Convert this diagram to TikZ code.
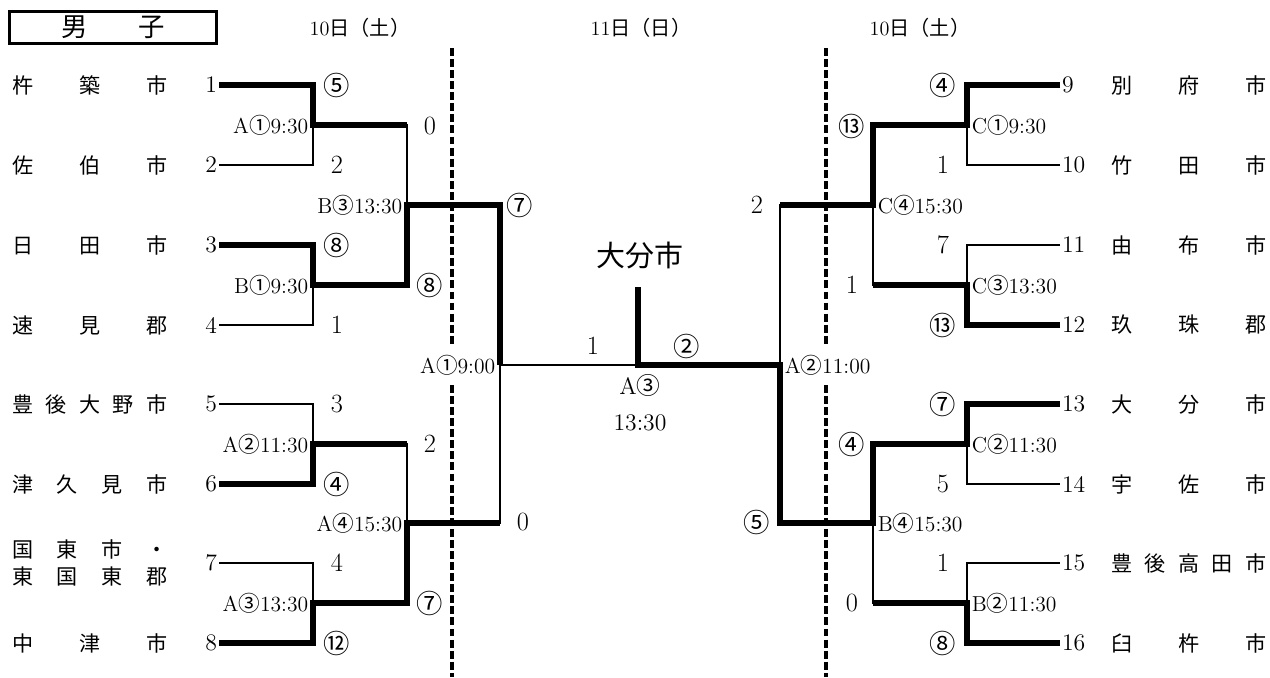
\documentclass[tikz,border=0pt]{standalone}
\usepackage{fontspec}
\newfontfamily\jp{Noto Sans CJK JP}

\begin{document}
\begin{tikzpicture}[x=0.02cm,y=-0.02cm,
  won/.style={line width=3.6pt},
  lost/.style={line width=1.5pt},
  cut/.style={line width=2pt,dash pattern=on 4.5pt off 1.8pt},
  city/.style={font=\fontsize{12}{15}\selectfont\jp,text width=3.1cm,inner sep=0pt,anchor=west},
  num/.style={font=\fontsize{13.5}{15}\selectfont,inner sep=1pt},
  pts/.style={font=\fontsize{15}{17}\selectfont,inner sep=0pt},
  slot/.style={font=\fontsize{12.3}{14}\selectfont,inner sep=2.5pt},
  date/.style={font=\fontsize{11.5}{13}\selectfont}]
  \useasboundingbox (0,0) rectangle (1270,677);

  % heading
  \node[draw,line width=1.7pt,minimum width=4.14cm,minimum height=0.64cm,inner sep=0pt,
        font=\fontsize{15}{17}\selectfont\jp] (sex) at (113,27.5) {男\hspace{1.9em}子};
  \node[date] (d1) at (360,28) {10{\jp 日（土）}};
  \node[date] (d2) at (641,28) {11{\jp 日（日）}};
  \node[date] (d3) at (920,28) {10{\jp 日（土）}};

  % day boundaries
  \draw[cut] (452,48) -- (452,345) (452,385) -- (452,677);
  \draw[cut] (826,48) -- (826,345) (826,385) -- (826,677);

  % teams
  \foreach \i/\y/\name in {1/85/{杵\hfill 築\hfill 市},2/165/{佐\hfill 伯\hfill 市},
      3/245/{日\hfill 田\hfill 市},4/325/{速\hfill 見\hfill 郡},
      5/404/{豊\hfill 後\hfill 大\hfill 野\hfill 市},6/484/{津\hfill 久\hfill 見\hfill 市},
      7/563/{国\hfill 東\hfill 市\hfill ・\\東\hfill 国\hfill 東\hfill 郡},8/643/{中\hfill 津\hfill 市}} {
    \node[city] (n\i) at (12,\y) {\name};
    \node[num,anchor=east] (t\i) at (219,\y) {\i};
  }
  \foreach \i/\y/\name in {9/85/{別\hfill 府\hfill 市},10/165/{竹\hfill 田\hfill 市},
      11/245/{由\hfill 布\hfill 市},12/325/{玖\hfill 珠\hfill 郡},
      13/404/{大\hfill 分\hfill 市},14/484/{宇\hfill 佐\hfill 市},
      15/563/{豊\hfill 後\hfill 高\hfill 田\hfill 市},16/643/{臼\hfill 杵\hfill 市}} {
    \node[num,anchor=west] (t\i) at (1060,\y) {\i};
    \node[city] (n\i) at (1111,\y) {\name};
  }

  % match points
  \coordinate (a1) at (313,125);  \coordinate (b1) at (313,285);
  \coordinate (a2) at (313,444);  \coordinate (a3) at (313,603);
  \coordinate (b3) at (407,205);  \coordinate (a4) at (407,523);
  \coordinate (a1f) at (500,365); \coordinate (fin) at (638,365);
  \coordinate (champ) at (638,287);
  \coordinate (c1) at (967,125);  \coordinate (c3) at (967,285);
  \coordinate (c2) at (967,444);  \coordinate (b2) at (967,603);
  \coordinate (c4) at (873,205);  \coordinate (b4) at (873,523);
  \coordinate (a2f) at (780,365);

  % bracket
  \foreach \a/\b in {t1/a1,t2/a1,t3/b1,t4/b1,t5/a2,t6/a2,t7/a3,t8/a3,
      a1/b3,b1/b3,a2/a4,a3/a4,b3/a1f,a4/a1f,a1f/fin,
      t9/c1,t10/c1,t11/c3,t12/c3,t13/c2,t14/c2,t15/b2,t16/b2,
      c1/c4,c3/c4,c2/b4,b2/b4,c4/a2f,b4/a2f,a2f/fin}
    \draw[lost] (\a) -| (\b);
  \draw[won] (t1) -| (a1) -- (a1 -| b3);
  \draw[won] (t3) -| (b1) -| (b3) -| (a1f);
  \draw[won] (t6) -| (a2) -- (a2 -| a4);
  \draw[won] (t8) -| (a3) -| (a4) -- (a4 -| a1f);
  \draw[won] (t9) -| (c1) -| (c4) -- (c4 -| a2f);
  \draw[won] (t12) -| (c3) -- (c3 -| c4);
  \draw[won] (t16) -| (b2) -- (b2 -| b4);
  \draw[won] (t13) -| (c2) -| (b4) -| (a2f) -- (fin) -- (champ);

  % match labels
  \foreach \m/\t in {a1/A{\jp ①}9:30,b1/B{\jp ①}9:30,a2/A{\jp ②}11:30,a3/A{\jp ③}13:30,
      b3/B{\jp ③}13:30,a4/A{\jp ④}15:30,a1f/A{\jp ①}9:00}
    \node[slot,anchor=east] (l\m) at (\m) {\t};
  \foreach \m/\t in {c1/C{\jp ①}9:30,c3/C{\jp ③}13:30,c2/C{\jp ②}11:30,b2/B{\jp ②}11:30,
      c4/C{\jp ④}15:30,b4/B{\jp ④}15:30,a2f/A{\jp ②}11:00}
    \node[slot,anchor=west] (l\m) at (\m) {\t};

  % scores
  \foreach \x/\y/\s [count=\k] in {337/85/{\jp ⑤},337/165/2,430/126/0,337/245/{\jp ⑧},
      337/325/1,430/285/{\jp ⑧},520/205/{\jp ⑦},337/404/3,337/484/{\jp ④},430/444/2,
      337/563/4,337/643/{\jp ⑫},430/603/{\jp ⑦},523/522/0,593/346/1,687/346/{\jp ②},
      943/85/{\jp ④},943/165/1,852/126/{\jp ⑬},943/245/7,943/325/{\jp ⑬},852/285/1,
      757/205/2,943/404/{\jp ⑦},943/484/5,852/444/{\jp ④},943/563/1,943/643/{\jp ⑧},
      852/603/0,757/522/{\jp ⑤}}
    \node[pts] (p\k) at (\x,\y) {\s};

  % final
  \node[font=\fontsize{16.5}{18}\selectfont\jp] (winner) at (640,255) {大分市};
  \node[font=\fontsize{13.5}{15}\selectfont] (fm) at (640,385) {A{\jp ③}};
  \node[font=\fontsize{13.5}{15}\selectfont] (ft) at (640,423) {13:30};
\end{tikzpicture}
\end{document}
